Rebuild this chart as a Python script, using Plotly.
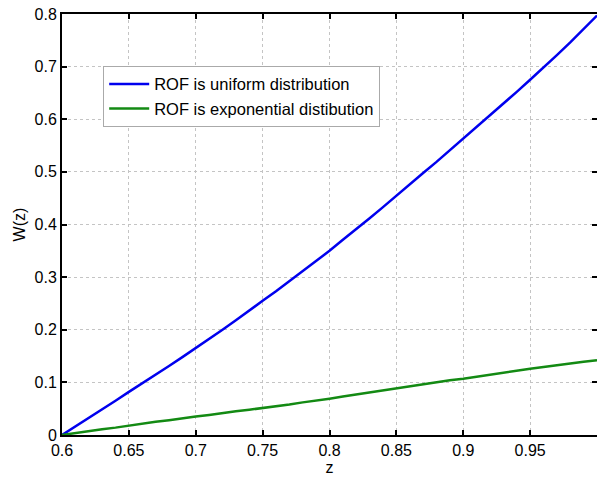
import plotly.graph_objects as go

z = [0.60, 0.61, 0.62, 0.63, 0.64, 0.65, 0.66, 0.67, 0.68, 0.69, 0.70,
     0.71, 0.72, 0.73, 0.74, 0.75, 0.76, 0.77, 0.78, 0.79, 0.80,
     0.81, 0.82, 0.83, 0.84, 0.85, 0.86, 0.87, 0.88, 0.89, 0.90,
     0.91, 0.92, 0.93, 0.94, 0.95, 0.96, 0.97, 0.98, 0.99, 1.00]
w_uniform = [0.000, 0.016, 0.032, 0.048, 0.065, 0.082, 0.098, 0.115, 0.131, 0.148, 0.165,
             0.183, 0.200, 0.218, 0.237, 0.255, 0.273, 0.292, 0.311, 0.331, 0.350,
             0.371, 0.391, 0.412, 0.433, 0.455, 0.476, 0.498, 0.519, 0.541, 0.563,
             0.585, 0.607, 0.629, 0.652, 0.675, 0.698, 0.722, 0.746, 0.771, 0.797]
w_exponential = [0.000, 0.004, 0.007, 0.011, 0.014, 0.018, 0.021, 0.025, 0.028, 0.032, 0.035,
                 0.038, 0.042, 0.045, 0.048, 0.051, 0.055, 0.058, 0.062, 0.065, 0.069,
                 0.073, 0.077, 0.081, 0.084, 0.088, 0.092, 0.096, 0.100, 0.104, 0.107,
                 0.111, 0.115, 0.118, 0.122, 0.126, 0.129, 0.133, 0.136, 0.139, 0.142]
x_ticks = [0.6, 0.65, 0.7, 0.75, 0.8, 0.85, 0.9, 0.95]
x_tick_labels = ["0.6", "0.65", "0.7", "0.75", "0.8", "0.85", "0.9", "0.95"]
y_ticks = [0, 0.1, 0.2, 0.3, 0.4, 0.5, 0.6, 0.7, 0.8]
y_tick_labels = ["0", "0.1", "0.2", "0.3", "0.4", "0.5", "0.6", "0.7", "0.8"]
names = ["ROF is uniform distribution", "ROF is exponential distibution"]

FONT = "Liberation Sans, Arial, sans-serif"

fig = go.Figure()
fig.add_trace(go.Scatter(x=z, y=w_uniform, mode="lines", name=names[0],
                         line=dict(color="#0000EE", width=2.5)))
fig.add_trace(go.Scatter(x=z, y=w_exponential, mode="lines", name=names[1],
                         line=dict(color="#138A13", width=2.5)))

axis_common = dict(showline=True, linecolor="black", linewidth=2, mirror="ticks",
                   ticks="inside", ticklen=5, tickwidth=2, tickcolor="black",
                   showgrid=True, gridcolor="#C4C4C4", griddash="dot", gridwidth=1,
                   zeroline=False, automargin=False, ticklabeloverflow="allow",
                   tickfont=dict(size=16, color="black", family=FONT))
fig.update_xaxes(range=[0.6, 1.0], tickvals=x_ticks, ticktext=x_tick_labels,
                 title=dict(text="z", standoff=4,
                            font=dict(size=16, color="black", family=FONT)),
                 **axis_common)
fig.update_yaxes(range=[0, 0.8], tickvals=y_ticks, ticktext=y_tick_labels,
                 title=dict(text="W(z)", standoff=5,
                            font=dict(size=16, color="black", family=FONT)),
                 **axis_common)

fig.update_layout(
    width=597, height=480,
    margin=dict(l=62, r=0, t=14, b=45),
    plot_bgcolor="white", paper_bgcolor="white",
    showlegend=True,
    legend=dict(x=0.077, y=0.877, xanchor="left", yanchor="top",
                bgcolor="white", bordercolor="#AAAAAA", borderwidth=1,
                font=dict(size=16.5, color="black", family=FONT),
                tracegroupgap=0, itemwidth=40),
)

fig.write_html("out.html", config={"displayModeBar": False},
               post_script="document.body.style.margin='0';document.body.style.overflow='hidden';")
